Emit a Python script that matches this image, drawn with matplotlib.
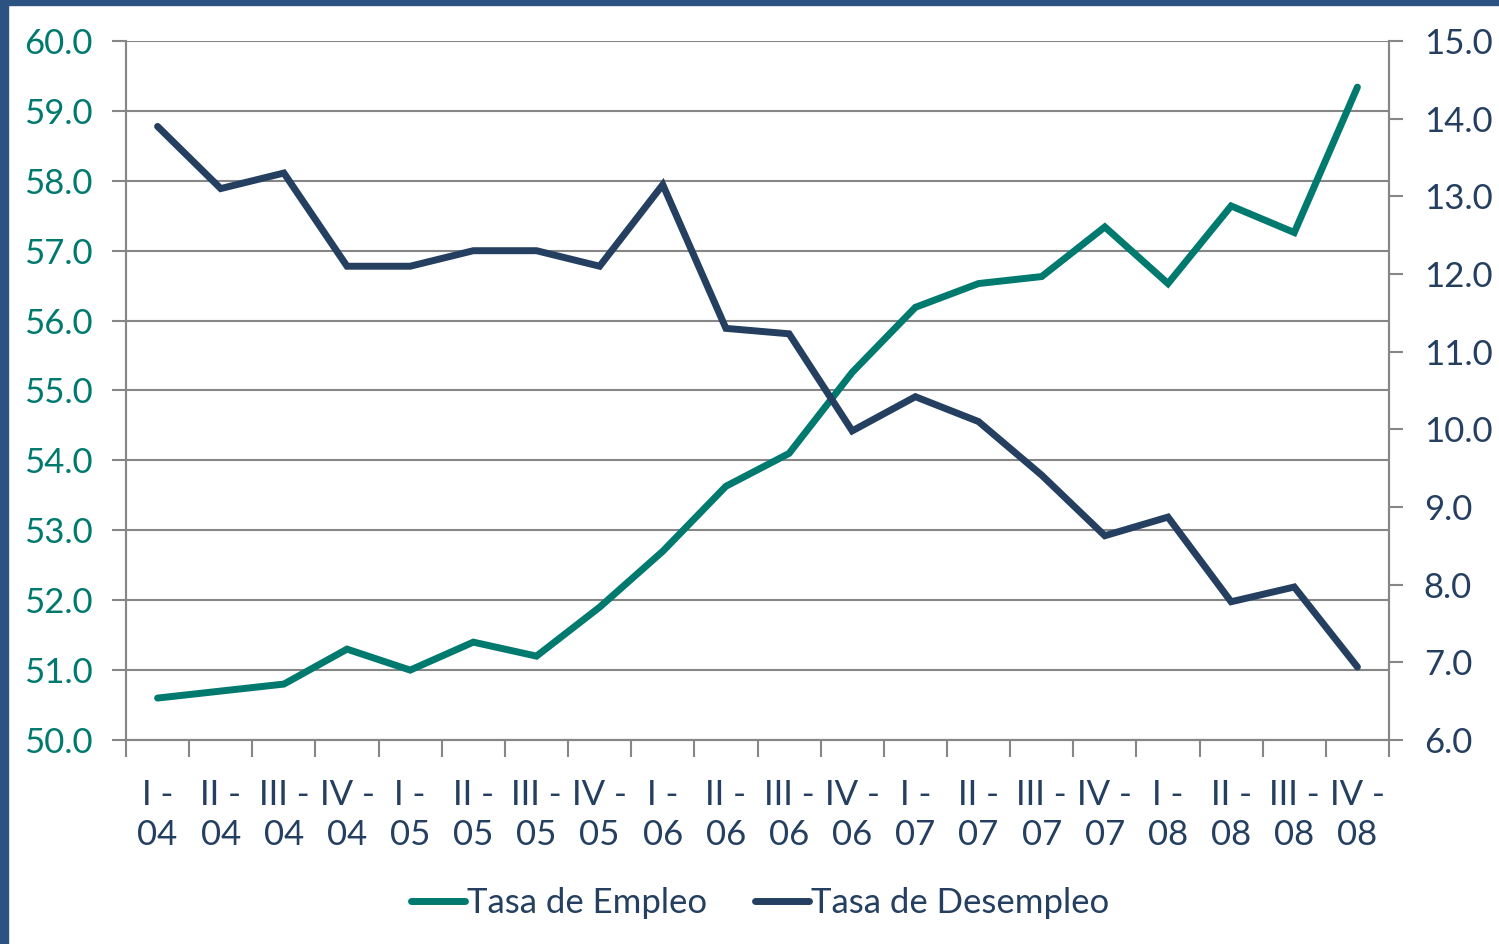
import matplotlib
matplotlib.use("Agg")
import matplotlib.pyplot as plt
from matplotlib.patches import Rectangle
from matplotlib.lines import Line2D

plt.rcParams['font.family'] = ['Lato', 'DejaVu Sans']

# quarters 2004-2008
trimestres = ["I -\n04", "II -\n04", "III -\n04", "IV -\n04",
              "I -\n05", "II -\n05", "III -\n05", "IV -\n05",
              "I -\n06", "II -\n06", "III -\n06", "IV -\n06",
              "I -\n07", "II -\n07", "III -\n07", "IV -\n07",
              "I -\n08", "II -\n08", "III -\n08", "IV -\n08"]
empleo = [50.6, 50.7, 50.8, 51.3, 51.0, 51.4, 51.2, 51.9, 52.7, 53.63,
          54.1, 55.26, 56.19, 56.53, 56.63, 57.34, 56.53, 57.64, 57.26, 59.34]
desempleo = [13.9, 13.1, 13.3, 12.1, 12.1, 12.3, 12.3, 12.1, 13.15, 11.3,
             11.23, 9.98, 10.42, 10.1, 9.41, 8.63, 8.87, 7.78, 7.97, 6.94]

teal = "#00796F"
navy = "#243F60"
gris = "#868686"
fs = 25

fig = plt.figure(figsize=(14.99, 9.44), dpi=100)
ax = fig.add_axes([126/1499, 1 - 740/944, (1389-126)/1499, (740-41)/944])
ax2 = ax.twinx()

x = list(range(len(trimestres)))
ax.plot(x, empleo, color=teal, lw=5, solid_capstyle='round', solid_joinstyle='miter', zorder=3)
ax2.plot(x, desempleo, color=navy, lw=5, solid_capstyle='round', solid_joinstyle='miter', zorder=3)

# left axis
ax.set_xlim(-0.5, len(trimestres) - 0.5)
ax.set_ylim(50, 60)
ax.set_yticks([50 + i for i in range(11)])
ax.set_yticklabels(["%.1f" % (50 + i) for i in range(11)], color=teal, fontsize=fs)
ax.grid(axis='y', color=gris, lw=1.5)
ax.set_axisbelow(True)
ax.tick_params(axis='y', length=10, width=1.5, color=gris, pad=14)

# right axis
ax2.set_ylim(6, 15)
ax2.set_yticks([6 + i for i in range(10)])
ax2.set_yticklabels(["%.1f" % (6 + i) for i in range(10)], color=navy, fontsize=fs)
ax2.tick_params(axis='y', length=10, width=1.5, color=gris, pad=15)

# x axis: labels at centers, ticks at boundaries
ax.set_xticks(x)
ax.set_xticklabels(trimestres, color=navy, fontsize=fs, linespacing=1.3)
ax.tick_params(axis='x', length=0, pad=28)
ax.set_xticks([i - 0.5 for i in range(len(trimestres) + 1)], minor=True)
ax.tick_params(axis='x', which='minor', length=12, width=1.5, color=gris)

for a in (ax, ax2):
    a.spines['top'].set_visible(False)
    for s in ('left', 'right', 'bottom'):
        a.spines[s].set_color(gris)
        a.spines[s].set_linewidth(1.5)

handles = [Line2D([], [], color=teal, lw=5, solid_capstyle='round'),
           Line2D([], [], color=navy, lw=5, solid_capstyle='round')]
fig.legend(handles, ["Tasa de Empleo", "Tasa de Desempleo"], loc='center',
           bbox_to_anchor=(760/1499, 1 - 903/944), ncol=2, frameon=False,
           fontsize=fs, handlelength=1.55, handletextpad=0.05, columnspacing=1.4,
           labelcolor=navy)

# frame band of the original slide
fig.patches.append(Rectangle((0, 0), 8/1499, 1, transform=fig.transFigure,
                             color="#2B5280", zorder=10))
fig.patches.append(Rectangle((0, 1 - 5/944), 1, 5/944, transform=fig.transFigure,
                             color="#2B5280", zorder=10))

fig.savefig("out.png", dpi=100)
